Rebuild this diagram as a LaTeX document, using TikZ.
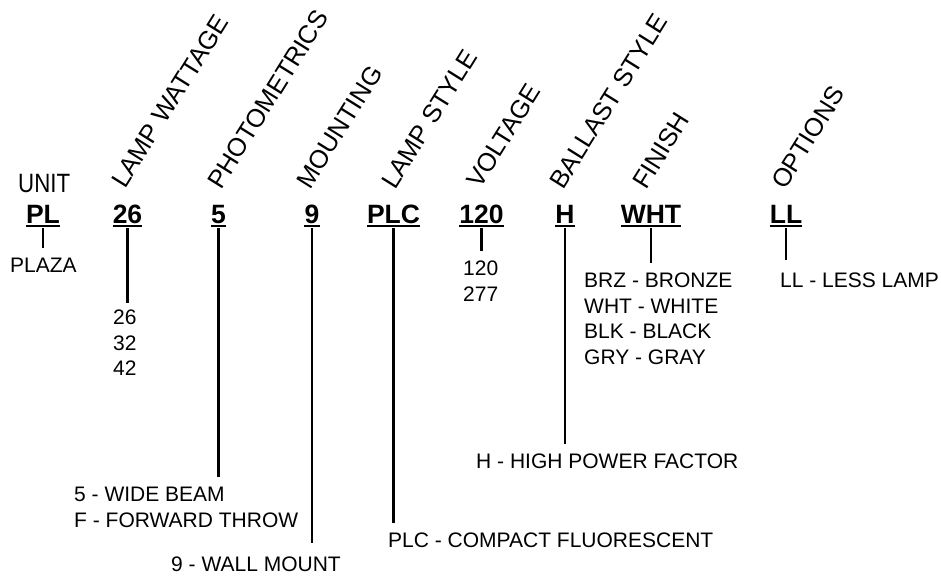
\documentclass[tikz,border=0pt]{standalone}
\usepackage{graphicx}
\usepackage{fontspec}
\setmainfont{Liberation Sans}
\usetikzlibrary{calc}

\begin{document}
\begin{tikzpicture}[x=1pt,y=-1pt,
  hd/.style={anchor=base west,inner sep=0pt,rotate=58,font=\fontsize{25.5}{30}\selectfont},
  code/.style={anchor=base,inner sep=0pt,font=\fontsize{26.5}{30}\selectfont\bfseries},
  opt/.style={anchor=north west,inner sep=0pt,align=left,font=\fontsize{21}{25.5}\selectfont},
  ul/.style={line width=1.6pt},
  ln/.style={line width=2.5pt,shorten <=5pt,shorten >=10pt}]
\useasboundingbox (0,0) rectangle (941,580);
% column headings
\node[anchor=base west,inner sep=0pt,font=\fontsize{26.5}{30}\selectfont] (unit) at (18,192) {\scalebox{0.84}[1]{UNIT}};
\node[hd] (hw) at (125,190) {LAMP WATTAGE};
\node[hd] (hph) at (221,191) {PHOTOMETRICS};
\node[hd] (hmt) at (310,191) {MOUNTING};
\node[hd] (hls) at (395,191) {LAMP STYLE};
\node[hd] (hvt) at (480,190) {VOLTAGE};
\node[hd] (hbs) at (563,191) {BALLAST STYLE};
\node[hd] (hfn) at (646,191) {FINISH};
\node[hd] (hop) at (785,191) {OPTIONS};
% catalogue code
\node[code] (pl) at (43,223) {PL};
\node[code] (w) at (127.5,223) {26};
\node[code] (ph) at (218.5,223) {5};
\node[code] (mt) at (312,223) {9};
\node[code] (ls) at (393.5,223) {PLC};
\node[code] (vt) at (481.5,223) {120};
\node[code] (bs) at (565,223) {H};
\node[code] (fn) at (651,223) {WHT};
\node[code] (op) at (786,223) {LL};
\foreach \n in {pl,w,ph,mt,ls,vt,bs,fn,op} {\draw[ul] ([yshift=-3pt]\n.base west) -- ([yshift=-3pt]\n.base east);}
% choices
\node[opt] (oplaza) at (10,258) {PLAZA};
\node[opt] (ow) at (113,310) {26\\32\\42};
\node[opt] (oph) at (74,487) {5 - WIDE BEAM\\F - FORWARD THROW};
\node[opt] (omt) at (171,557) {9 - WALL MOUNT};
\node[opt] (ols) at (388,533) {PLC - COMPACT FLUORESCENT};
\node[opt] (ovt) at (463,261) {120\\277};
\node[opt] (obs) at (476,454) {H - HIGH POWER FACTOR};
\node[opt] (ofn) at (584,273) {BRZ - BRONZE\\WHT - WHITE\\BLK - BLACK\\GRY - GRAY};
\node[opt] (oop) at (780,273) {LL - LESS LAMP};
\foreach \c/\o in {pl/oplaza,ph/oph,ls/ols,vt/ovt,bs/obs,fn/ofn} {\draw[ln] (\c.south) -- (\c.south |- \o.north);}
\draw[ln,shorten >=7pt] (w.south) -- (w.south |- ow.north);
\draw[ln,shorten >=14pt] (mt.south) -- (mt.south |- omt.north);
\draw[ln,shorten >=13pt] (op.south) -- (op.south |- oop.north);
\end{tikzpicture}
\end{document}
